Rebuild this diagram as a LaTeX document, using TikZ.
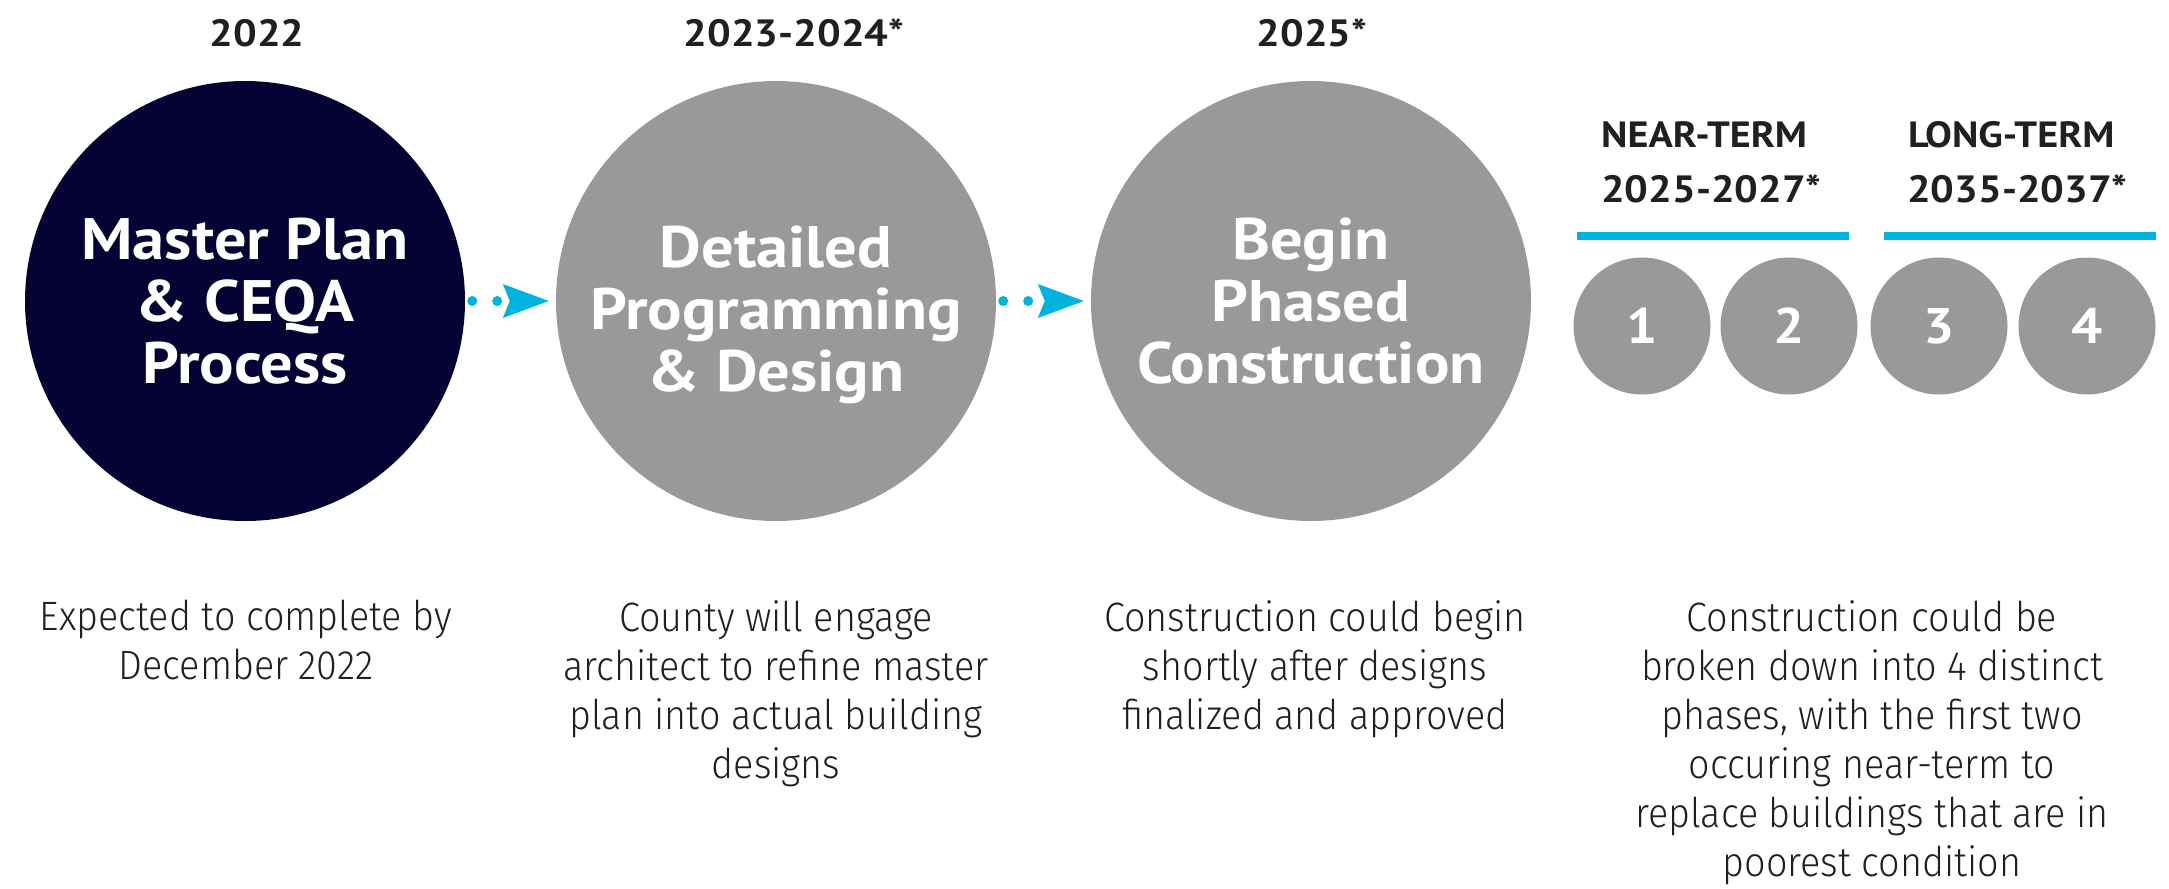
\documentclass[tikz,border=0pt]{standalone}
\usepackage{fontspec}
\setmainfont{PT Sans}[FakeStretch=1.1]
\newfontfamily\bodyfont{Fira Sans Light}[FakeStretch=0.92]
\usetikzlibrary{arrows.meta,positioning}
\definecolor{navy}{HTML}{050333}
\definecolor{stonegrey}{HTML}{999999}
\definecolor{skyblue}{HTML}{00B2DE}
\definecolor{ink}{HTML}{231F20}
\begin{document}
\begin{tikzpicture}[x=1pt, y=-1pt,
  stage/.style={circle, fill=stonegrey, minimum size=440pt, inner sep=0pt, text=white, align=center, font=\fontsize{58.5}{62}\selectfont\bfseries},
  phase/.style={circle, fill=stonegrey, minimum size=137pt, inner sep=0pt, text=white, font=\fontsize{50}{50}\selectfont\bfseries},
  year/.style={anchor=base, inner sep=0pt, text=ink, font=\fontsize{38}{38}\selectfont\bfseries},
  term/.style={anchor=base west, inner sep=0pt, text=ink, font=\fontsize{36.5}{36.5}\selectfont\bfseries},
  note/.style={anchor=north, inner sep=0pt, text=ink, align=center, font=\bodyfont\fontsize{41}{49}\selectfont},
  flow/.style={skyblue, line width=10pt, line cap=round, dash pattern=on 0pt off 25pt, shorten <=7pt, shorten >=7pt, -{Stealth[length=46pt, width=34pt, inset=7pt, line width=0pt]}},
  bar/.style={skyblue, line width=8pt}]
  \useasboundingbox (0,0) rectangle (2169,889);
  % the three stages
  \node[stage, fill=navy] (plan) at (245,301) {Master Plan\\\& CEQA\\Process};
  \node[stage, text height=0pt] (design) at (776,301) {};
  \node[text=white, align=center, font=\fontsize{58.5}{62}\selectfont\bfseries] (designtxt) at (776,315) {Detailed\\Programming\\\& Design};
  \node[stage] (build) at (1311,301) {Begin\\Phased\\Construction};
  \draw[flow] (plan.east) -- (design.west);
  \draw[flow] (design.east) -- (build.west);
  % years
  \node[year] (y1) at (257,46) {2022};
  \node[year] (y2) at (794,46) {2023-2024*};
  \node[year] (y3) at (1312,46) {2025*};
  % construction phases
  \node[phase] (p1) at (1642,326) {1};
  \node[phase] (p2) at (1789,326) {2};
  \node[phase] (p3) at (1939,326) {3};
  \node[phase] (p4) at (2087,326) {4};
  \node[term] (near) at (1601,147) {NEAR-TERM};
  \node[term, font=\fontsize{38}{38}\selectfont\bfseries] (neary) at (1601,202) {2025-2027*};
  \node[term] (long) at (1908,147) {LONG-TERM};
  \node[term, font=\fontsize{38}{38}\selectfont\bfseries] (longy) at (1907,202) {2035-2037*};
  \draw[bar] (1577,236) -- (1849,236);
  \draw[bar] (1884,236) -- (2156,236);
  % notes
  \node[note] (n1) at (246,600) {Expected to complete by\\December 2022};
  \node[note] (n2) at (776,600) {County will engage\\architect to refine master\\plan into actual building\\designs};
  \node[note] (n3) at (1315,600) {Construction could begin\\shortly after designs\\finalized and approved};
  \node[note] (n4) at (1872,600) {Construction could be\\broken down into 4 distinct\\phases, with the first two\\occuring near-term to\\replace buildings that are in\\poorest condition};
\end{tikzpicture}
\end{document}
